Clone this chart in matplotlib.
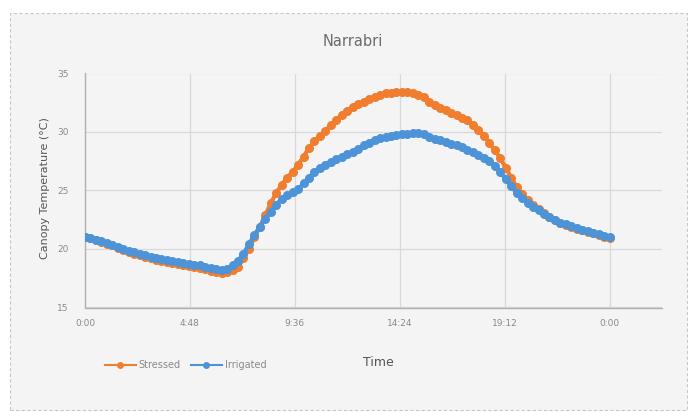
import numpy as np
import matplotlib.pyplot as plt
from matplotlib.patches import Rectangle

# canopy temperature every 15 minutes, 0:00 -> 24:00
stressed = [
    21.0, 20.9, 20.75, 20.6, 20.45, 20.3, 20.1, 19.95,
    19.75, 19.6, 19.45, 19.35, 19.2, 19.1, 19.0, 18.9,
    18.8, 18.7, 18.6, 18.55, 18.45, 18.35, 18.25, 18.1,
    18.0, 17.95, 18.0, 18.2, 18.5, 19.2, 20.0, 21.0,
    21.9, 22.9, 23.9, 24.8, 25.5, 26.1, 26.6, 27.2,
    27.9, 28.65, 29.2, 29.65, 30.1, 30.6, 31.05, 31.45,
    31.8, 32.15, 32.4, 32.6, 32.8, 33.0, 33.15, 33.3,
    33.35, 33.4, 33.4, 33.4, 33.35, 33.2, 33.0, 32.6,
    32.3, 32.05, 31.85, 31.65, 31.45, 31.2, 31.0, 30.6,
    30.2, 29.7, 29.1, 28.45, 27.75, 26.95, 26.1, 25.3,
    24.7, 24.2, 23.75, 23.4, 23.05, 22.75, 22.45, 22.25,
    22.05, 21.9, 21.75, 21.6, 21.45, 21.35, 21.2, 21.05,
    20.95,
]
irrigated = [
    21.0, 20.9, 20.8, 20.65, 20.5, 20.35, 20.2, 20.0,
    19.85, 19.75, 19.6, 19.5, 19.35, 19.25, 19.15, 19.05,
    18.95, 18.9, 18.8, 18.75, 18.65, 18.6, 18.5, 18.35,
    18.25, 18.2, 18.3, 18.6, 19.0, 19.6, 20.4, 21.2,
    21.9, 22.6, 23.2, 23.8, 24.3, 24.6, 24.85, 25.1,
    25.6, 26.1, 26.6, 26.9, 27.15, 27.4, 27.65, 27.9,
    28.1, 28.3, 28.55, 28.85, 29.1, 29.3, 29.45, 29.55,
    29.65, 29.75, 29.8, 29.85, 29.9, 29.9, 29.8, 29.6,
    29.4, 29.3, 29.15, 29.0, 28.85, 28.7, 28.5, 28.3,
    28.05, 27.8, 27.5, 27.1, 26.6, 25.95, 25.35, 24.8,
    24.4, 23.95, 23.6, 23.3, 23.0, 22.7, 22.45, 22.25,
    22.1, 21.95, 21.8, 21.65, 21.5, 21.4, 21.25, 21.1,
    21.0,
]
tick_pos = [0, 0.2, 0.4, 0.6, 0.8, 1.0]
tick_labels = ["0:00", "4:48", "9:36", "14:24", "19:12", "0:00"]

# time as fraction of a day (Excel style)
t = np.arange(len(stressed)) / 96.0

W, H = 688, 412
fig = plt.figure(figsize=(W / 100, H / 100), dpi=100, facecolor="white")

# chart area background with dashed border
bg = Rectangle((10 / W, 0.005), (W - 11) / W, 1 - 13 / H - 0.005, transform=fig.transFigure,
               facecolor="#f4f4f4", edgecolor="#c8c8c8", linestyle=(0, (3, 2)),
               linewidth=0.8, zorder=-10)
fig.patches.append(bg)

ax = fig.add_axes([85 / W, 1 - 307.5 / H, (662 - 85) / W, (307.5 - 73.5) / H])
ax.set_facecolor("none")

orange = "#F07E2E"
blue = "#4C93D8"
ax.plot(t, stressed, color=orange, lw=3, marker="o", ms=6.5, mew=0, label="Stressed", zorder=3)
ax.plot(t, irrigated, color=blue, lw=3, marker="o", ms=6.5, mew=0, label="Irrigated", zorder=4)

ax.set_xlim(0, 1.1)
ax.set_ylim(15, 35)
ax.set_yticks([15, 20, 25, 30, 35])
ax.set_xticks(tick_pos)
ax.set_xticklabels(tick_labels)
ax.grid(True, color="#d9d9d9", lw=0.9)
ax.set_axisbelow(True)
for s in ["top", "right"]:
    ax.spines[s].set_visible(False)
for s in ["left", "bottom"]:
    ax.spines[s].set_color("#b0b0b0")
    ax.spines[s].set_linewidth(1.0)
ax.tick_params(length=0, labelsize=6.5, colors="#8a8a8a", pad=8)
ax.tick_params(axis="y", pad=12)

fig.text(353 / W, 1 - 42 / H, "Narrabri", ha="center", va="center", fontsize=10.5, color="#6b6b6b")
fig.text(45 / W, 1 - 188 / H, "Canopy Temperature (°C)", rotation=90, ha="center", va="center",
         fontsize=8, color="#555555")
fig.text(378 / W, 1 - 363 / H, "Time", ha="center", va="center", fontsize=9, color="#555555")

leg = fig.legend(loc="center left", bbox_to_anchor=(96 / W, 1 - 365 / H), ncol=2, frameon=False,
                 fontsize=7, labelcolor="#8a8a8a", handlelength=3.2, handletextpad=0.3,
                 columnspacing=1.0)
for h in leg.legend_handles:
    h.set_linewidth(1.5)
    h.set_markersize(5)

plt.savefig("out.png", dpi=100, facecolor=fig.get_facecolor())
